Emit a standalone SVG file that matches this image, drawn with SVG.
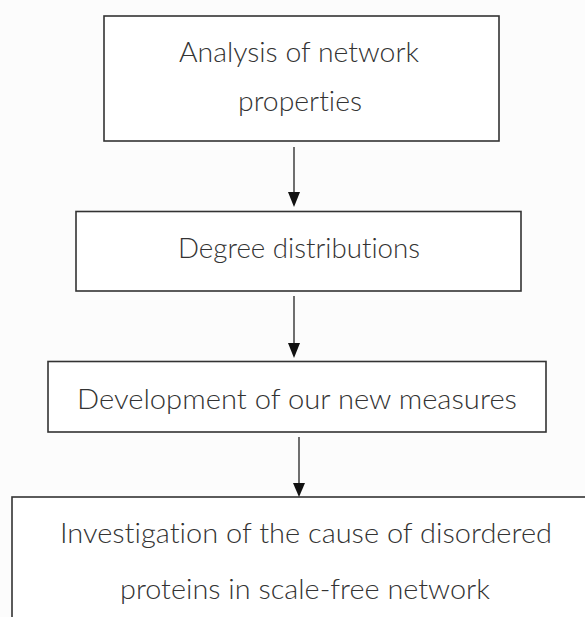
<svg xmlns="http://www.w3.org/2000/svg" width="585" height="617" viewBox="0 0 585 617">
<defs>
<style>
.box{fill:#ffffff;stroke:#333333;stroke-width:1.6}
.lbl{font-family:Lato,"Open Sans","Liberation Sans",sans-serif;font-size:27px;font-weight:300;fill:#333333;font-variant-ligatures:none;font-feature-settings:"liga" 0}
.con{stroke:#333333;stroke-width:1.4;fill:none}
.head{fill:#111111}
</style>
</defs>
<rect width="585" height="617" fill="#fcfcfc"/>
<g id="node-analysis">
<rect class="box" x="104" y="16" width="395" height="125"/>
<text class="lbl" x="299" y="62" text-anchor="middle" textLength="240" lengthAdjust="spacingAndGlyphs">Analysis of network</text>
<text class="lbl" x="300" y="111" text-anchor="middle" textLength="124" lengthAdjust="spacingAndGlyphs">properties</text>
</g>
<g id="node-degree">
<rect class="box" x="76" y="211.5" width="445" height="79.5"/>
<text class="lbl" x="299" y="258" text-anchor="middle" textLength="242" lengthAdjust="spacingAndGlyphs">Degree distributions</text>
</g>
<g id="node-measures">
<rect class="box" x="48" y="361.5" width="498" height="70.5"/>
<text class="lbl" x="297" y="408.5" text-anchor="middle" textLength="440" lengthAdjust="spacingAndGlyphs">Development of our new measures</text>
</g>
<g id="node-investigation">
<rect class="box" x="12" y="497" width="600" height="140"/>
<text class="lbl" x="306" y="543" text-anchor="middle" textLength="492" lengthAdjust="spacingAndGlyphs">Investigation of the cause of disordered</text>
<text class="lbl" x="305" y="599" text-anchor="middle" textLength="370" lengthAdjust="spacingAndGlyphs">proteins in scale-free network</text>
</g>
<g id="connectors">
<line class="con" x1="294" y1="147" x2="294" y2="195"/>
<polygon class="head" points="288,192 300,192 294,207"/>
<line class="con" x1="294" y1="296" x2="294" y2="345"/>
<polygon class="head" points="288,343 300,343 294,358"/>
<line class="con" x1="299" y1="437" x2="299" y2="486"/>
<polygon class="head" points="293,483 305,483 299,497"/>
</g>
</svg>
